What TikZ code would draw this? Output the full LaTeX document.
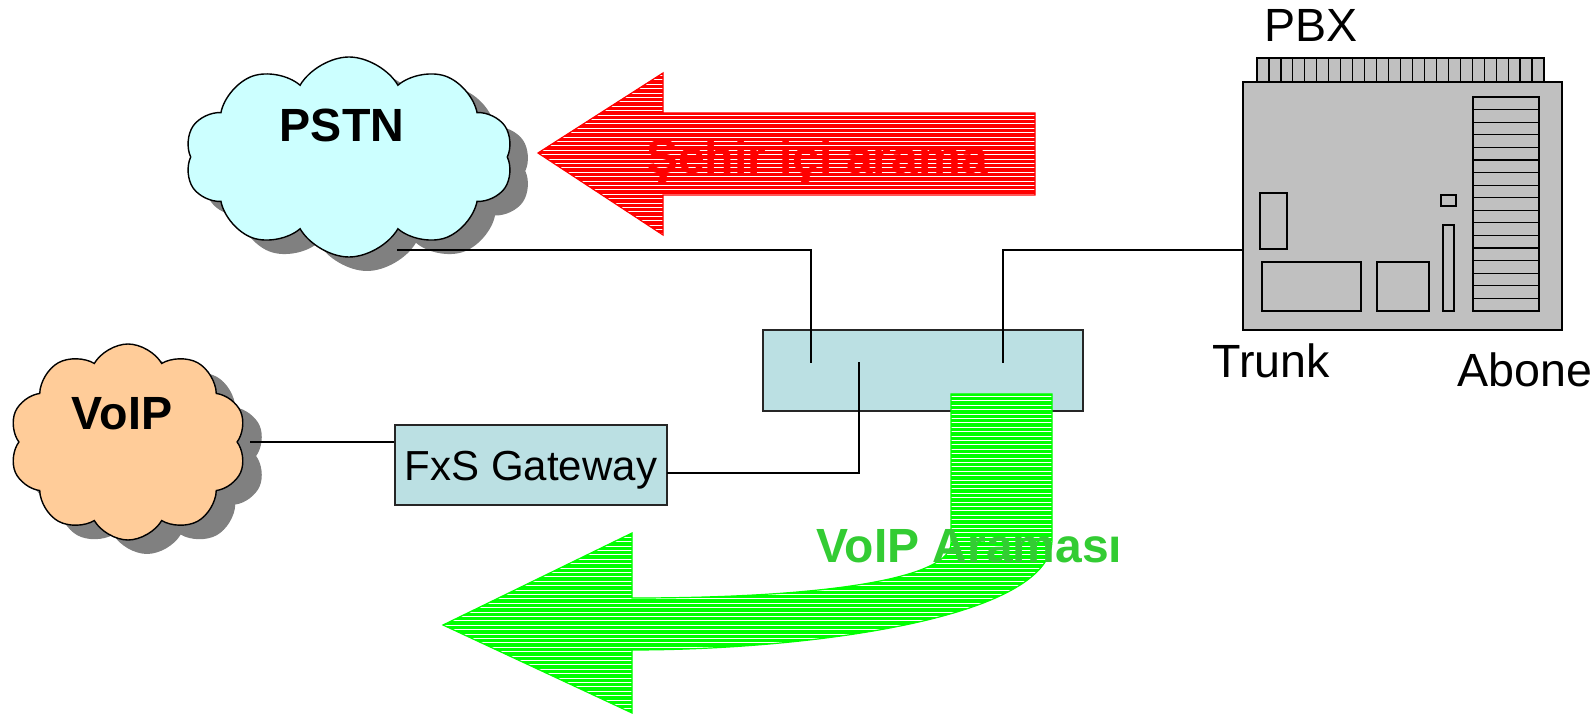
\documentclass[tikz,border=0pt]{standalone}
\usepackage{fontspec}
\setmainfont{Liberation Sans}
\usetikzlibrary{shapes.symbols}
\definecolor{pstnfill}{RGB}{204,255,255}
\definecolor{voipfill}{RGB}{255,204,153}
\definecolor{boxfill}{RGB}{187,224,227}
\definecolor{pbxgray}{RGB}{192,192,192}
\definecolor{shadowgray}{RGB}{128,128,128}
\definecolor{arrowgreen}{RGB}{0,255,0}
\definecolor{textgreen}{RGB}{51,204,51}
\definecolor{arrowred}{RGB}{255,0,0}
\begin{document}
\begin{tikzpicture}[x=0.5pt,y=-0.5pt,
  lbl/.style={font=\fontsize{23.3}{28}\selectfont, inner sep=0pt},
  blbl/.style={font=\fontsize{23.3}{28}\selectfont\bfseries, inner sep=0pt},
  arrowlbl/.style={font=\fontsize{24}{28}\selectfont\bfseries, inner sep=0pt},
  cloudbase/.style={cloud, cloud puffs=10, cloud puff arc=120, inner sep=0pt},
  netbox/.style={draw=black!85, line width=0.75pt, fill=boxfill, inner sep=0pt},
  wire/.style={draw=black, line width=0.7pt},
  pbxline/.style={draw=black, line width=0.6pt},
  hatch/.style={white, line width=0.55pt}]
\useasboundingbox (0,0) rectangle (1595,715);

% ---------- clouds ----------
\node[cloudbase, aspect=1.65, minimum width=164pt, minimum height=100pt, fill=shadowgray] (pstnshadow) at (367,171) {};
\node[cloudbase, aspect=1.65, minimum width=164pt, minimum height=100pt, fill=pstnfill, draw=black, line width=0.7pt] (pstn) at (349,157) {};
\node[blbl, anchor=base] (pstntext) at (342,142) {PSTN};

\node[cloudbase, aspect=1.2, minimum width=118.5pt, minimum height=98pt, fill=shadowgray] (voipshadow) at (147,456) {};
\node[cloudbase, aspect=1.2, minimum width=118.5pt, minimum height=98pt, fill=voipfill, draw=black, line width=0.7pt] (voip) at (128,442) {};
\node[blbl, anchor=base] (voiptext) at (122,430) {VoIP};

% ---------- red arrow ----------
\def\redarrow{(538,153) -- (663,73) -- (663,113) -- (1035,113) -- (1035,195) -- (663,195) -- (663,235) -- cycle}
\begin{scope}
  \clip \redarrow;
  \fill[arrowred] (500,60) rectangle (1100,250);
  \foreach \yy in {75.5,79.9,...,236} \draw[hatch] (500,\yy) -- (1100,\yy);
\end{scope}
\draw[arrowred, line width=0.6pt] \redarrow;
\node[arrowlbl, text=arrowred, anchor=base] (redtext) at (817,174) {Şehir içi arama};

% ---------- boxes ----------
\node[netbox, minimum width=160pt, minimum height=40.5pt] (switch) at (923,370.5) {};
\node[netbox, minimum width=136pt, minimum height=40pt] (gw) at (531,465) {};
\node[font=\fontsize{21}{25}\selectfont, inner sep=0pt, anchor=base] (gwtext) at (531,481) {FxS Gateway};

% ---------- green arrow ----------
\def\greenarrow{(951,394) -- (1052,394) -- (1052,540) .. controls (1052,620) and (800,650) .. (632,650) -- (632,713) -- (443,625) -- (632,533) -- (632,598) .. controls (830,598) and (951,578) .. (951,543) -- cycle}
\begin{scope}
  \clip \greenarrow;
  \fill[arrowgreen] (430,380) rectangle (1070,715);
  \foreach \yy in {396.5,400.9,...,714} \draw[hatch] (430,\yy) -- (1070,\yy);
\end{scope}
\draw[arrowgreen, line width=0.6pt] \greenarrow;
\node[arrowlbl, text=textgreen, anchor=base west] (greentext) at (816,563) {VoIP Araması};

% ---------- PBX ----------
\fill[pbxgray] (1257,58) rectangle (1544,82);
\foreach \i in {0,...,24} \draw[pbxline] ({1257+\i*11.958},58) -- ({1257+\i*11.958},82);
\draw[pbxline] (1257,82) -- (1257,58) -- (1544,58) -- (1544,82);
\node[draw=black, line width=0.75pt, fill=pbxgray, inner sep=0pt, minimum width=159.5pt, minimum height=124pt] (pbx) at (1402.5,206) {};
\draw[pbxline] (1260,193) rectangle (1287,249);
\draw[pbxline] (1262,262) rectangle (1361,311);
\draw[pbxline] (1377,262) rectangle (1429,311);
\draw[pbxline] (1441,195) rectangle (1456,206);
\draw[pbxline] (1443,225) rectangle (1454,311);
\draw[pbxline] (1473,97) rectangle (1539,311);
\foreach \i in {1,...,16} \draw[pbxline] (1473,{97+\i*12.59}) -- (1539,{97+\i*12.59});
\node[lbl, anchor=base] (pbxtext) at (1311,42) {PBX};
\node[lbl, anchor=base west] (trunk) at (1212,378) {Trunk};
\node[lbl, anchor=base west] (abone) at (1457,387) {Abone};

% ---------- wires ----------
\coordinate (pstnport) at (397,250);
\coordinate (swa) at (811,363);
\coordinate (swb) at (1003,363);
\coordinate (swc) at (859,362);
\coordinate (voipport) at (250,442);
\coordinate (gwout) at (667,473);
\draw[wire] (pstnport) -| (swa);
\draw[wire] (pbx.west |- 0,250) -| (swb);
\draw[wire] (gwout) -| (swc);
\draw[wire] (voipport) -- (gw.west |- voipport);
\end{tikzpicture}
\end{document}
